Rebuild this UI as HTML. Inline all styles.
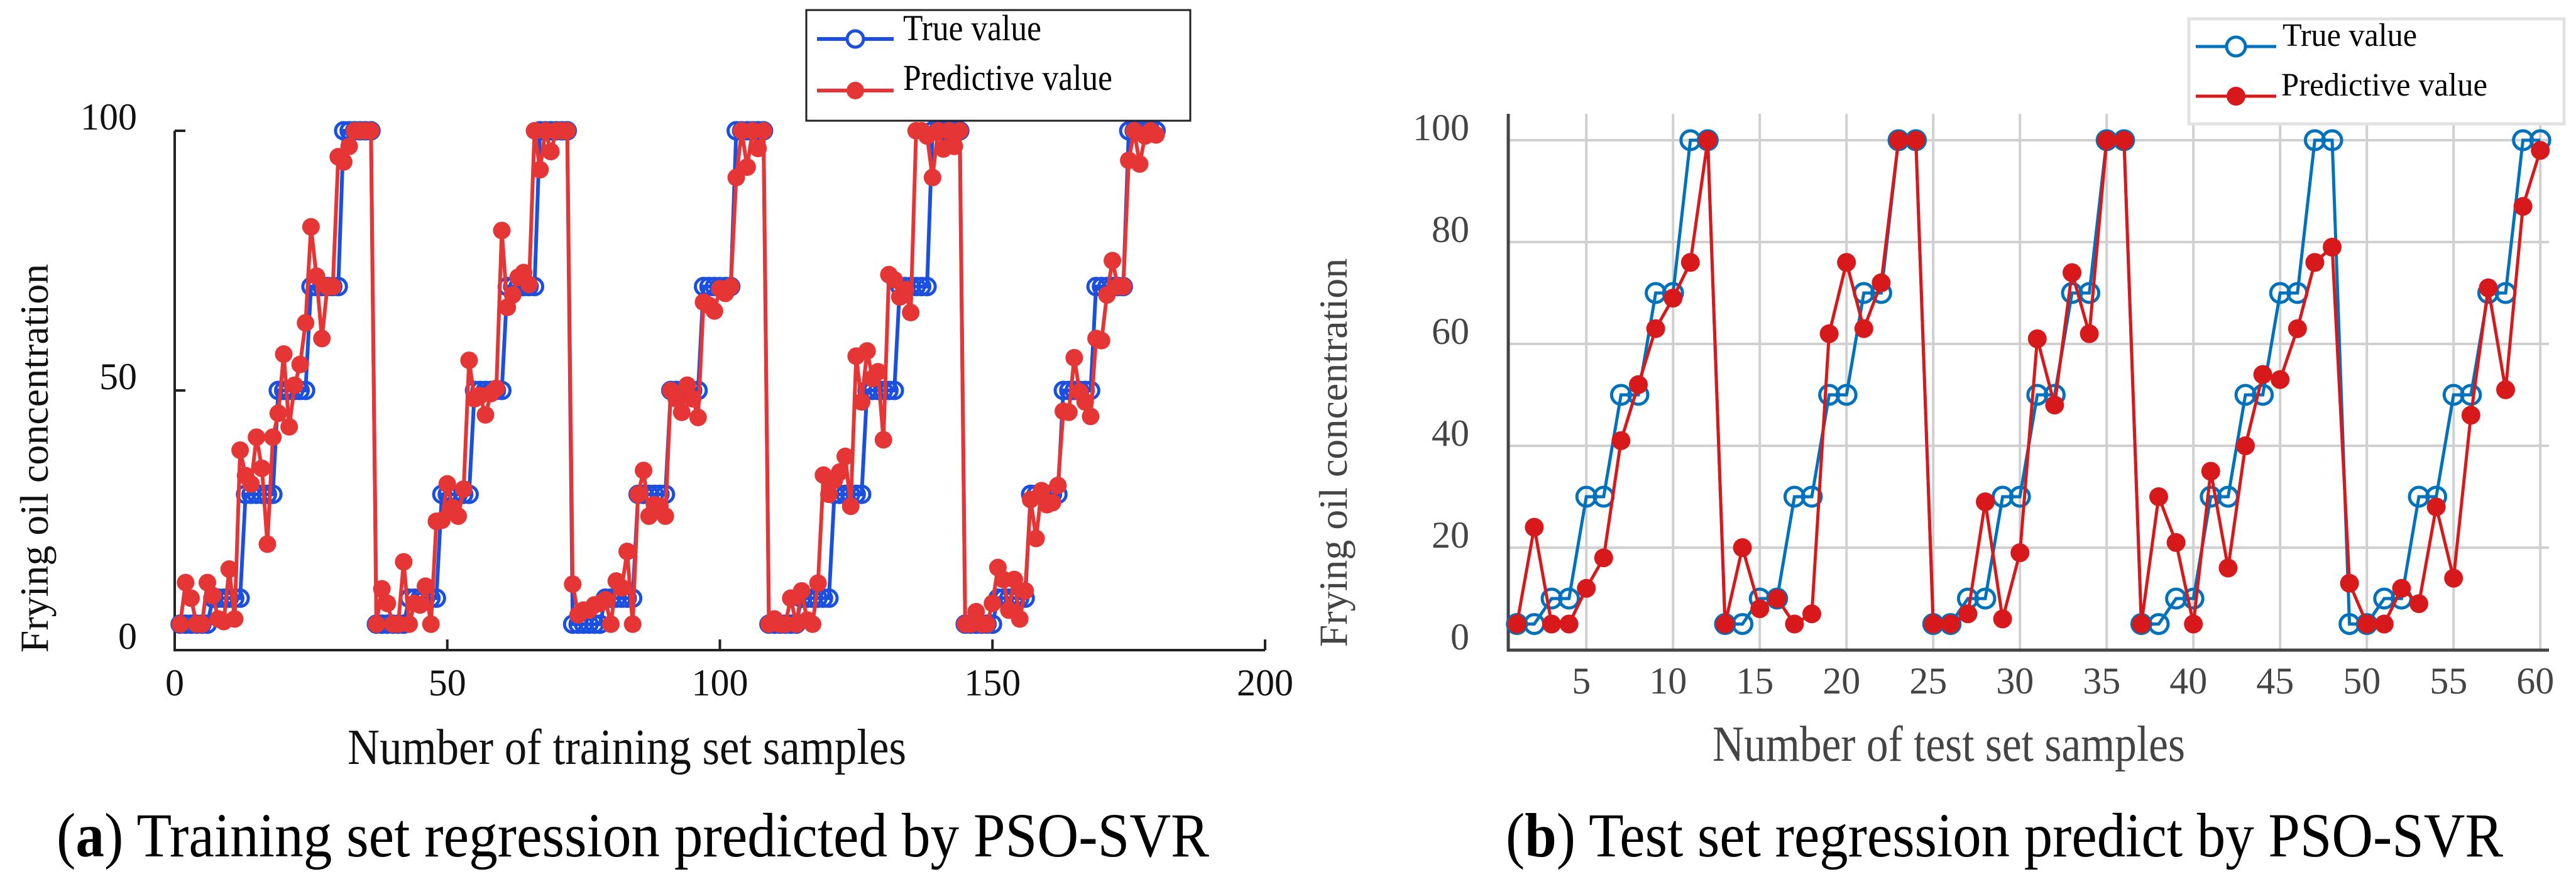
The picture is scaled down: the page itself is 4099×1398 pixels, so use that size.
<!DOCTYPE html>
<html><head><meta charset="utf-8"><style>
html,body{margin:0;padding:0;background:#fff;}
svg{display:block;}
text{font-family:"Liberation Serif",serif;}
</style></head><body>
<svg id="fig" width="4099" height="1398" viewBox="0 0 4099 1398" xmlns="http://www.w3.org/2000/svg">
<g id="left"></g>
<g id="right"></g>
</svg>
<script>
// ---- Training chart data ----
const trainTrue = [
5,5,5,5,5,5,10,10,10,10,10,10,30,30,30,30,30,30,50,50,50,50,50,50,70,70,70,70,70,70,100,100,100,100,100,100,
5,5,5,5,5,5,10,10,10,10,10,10,30,30,30,30,30,30,50,50,50,50,50,50,70,70,70,70,70,70,100,100,100,100,100,100,
5,5,5,5,5,5,10,10,10,10,10,10,30,30,30,30,30,30,50,50,50,50,50,50,70,70,70,70,70,70,100,100,100,100,100,100,
5,5,5,5,5,5,10,10,10,10,10,10,30,30,30,30,30,30,50,50,50,50,50,50,70,70,70,70,70,70,100,100,100,100,100,100,
5,5,5,5,5,5,10,10,10,10,10,10,30,30,30,30,30,30,50,50,50,50,50,50,70,70,70,70,70,70,100,100,100,100,100,100];
const trainPred = [
5,13,10,5,5,13,10.5,6,5.5,15.6,6,38.5,33.6,32,41,35,20.4,41,45.6,57,43,51,55,63,81.5,72,60,70,70,95,94,97,100,100,100,100,
5,11.8,9,5,5,17,5,9,8.7,12.3,5,24.8,25,32,27.4,25.8,31,55.8,48.4,49,45.3,49.4,50.4,80.8,66,68.4,71.8,72.7,70.4,100,92.5,100,96,100,100,100,
12.7,6.8,7.7,7.7,8.7,9,9.7,5,13.3,12,19,5,30,34.6,25.8,28,27.7,25.8,50,48.4,45.8,51,48.4,44.8,67,66.4,65.3,69.6,68.7,70,91,100,93,100,96.6,100,
5,6,5,5,10,5,11.4,5.8,5,12.9,33.7,30,32.7,34.3,37.3,27.7,56.6,47.8,57.6,52.3,53.6,40.5,72.3,71.3,68,69.4,65,100,100,99,91,100,96.5,100,97,100,
5,5,7.4,5,5,9,15.9,13.6,7.7,13.6,6,11.4,29,21.5,30.7,28,28.4,31.7,46,45.8,56.3,49.7,47.8,45,60,59.6,68.4,75,70,70,94.3,100,93.6,99,100,99.2];
const trainXTicks = [0,50,100,150,200];
const trainYTicks = [0,50,100];
// ---- Test chart data ----
const testTrue = [5,5,10,10,30,30,50,50,70,70,100,100,5,5,10,10,30,30,50,50,70,70,100,100,5,5,10,10,30,30,50,50,70,70,100,100,5,5,10,10,30,30,50,50,70,70,100,100,5,5,10,10,30,30,50,50,70,70,100,100];
const testPred = [5,24,5,5,12,18,41,52,63,69,76,100,5,20,8,10,5,7,62,76,63,72,100,100,5,5,7,29,6,19,61,48,74,62,100,100,5,30,21,5,35,16,40,54,53,63,76,79,13,5,5,12,9,28,14,46,71,51,87,98];
const testXTicks = [5,10,15,20,25,30,35,40,45,50,55,60];
const testYTicks = [0,20,40,60,80,100];

const NS="http://www.w3.org/2000/svg";
function mk(parent,tag,attrs,txt){const e=document.createElementNS(NS,tag);for(const k in attrs)e.setAttribute(k,attrs[k]);if(txt!==undefined)e.textContent=txt;parent.appendChild(e);return e;}

// ===== Left chart =====
const L=document.getElementById('left');
const lx=v=>278+(v-0)*(2013-278)/200;
const ly=v=>1034-v*8.26;
// axes
let e;
e=mk(L,'path',{d:`M278,${ly(100)} L278,1034 L2013,1034`,fill:'none',stroke:'#222','stroke-width':4});


trainXTicks.forEach(t=>{
  e=mk(L,'line',{x1:lx(t),x2:lx(t),y1:1034,y2:1017,stroke:'#222','stroke-width':4});
  
  
  e=mk(L,'text',{x:lx(t),y:1106,'font-size':60,'text-anchor':'middle',fill:'#111'},String(t));
  
  
});
trainYTicks.forEach(t=>{
  e=mk(L,'line',{x1:278,x2:295,y1:ly(t),y2:ly(t),stroke:'#222','stroke-width':4});
  
  
  e=mk(L,'text',{x:218,y:ly(t)-2,'font-size':60,'text-anchor':'end',fill:'#111'},String(t));
  
  
});
// series
const lineTrue=trainTrue.map((v,i)=>`${lx(i+1)},${ly(v)}`).join(' ');
e=mk(L,'polyline',{points:lineTrue,fill:'none',stroke:'#1a4fe0','stroke-width':6});


trainTrue.forEach((v,i)=>{
  e=mk(L,'circle',{cx:lx(i+1),cy:ly(v),r:13,fill:'none',stroke:'#1a4fe0','stroke-width':5});
  
  
});
const linePred=trainPred.map((v,i)=>`${lx(i+1)},${ly(v)}`).join(' ');
e=mk(L,'polyline',{points:linePred,fill:'none',stroke:'#e53535','stroke-width':6});


trainPred.forEach((v,i)=>{
  e=mk(L,'circle',{cx:lx(i+1),cy:ly(v),r:14,fill:'#e53535'});
  
  
});
// titles
e=mk(L,'text',{x:0,y:0,'font-size':64,'text-anchor':'middle',fill:'#111',transform:'translate(76,729) rotate(-90)'},'Frying oil concentration');


e=mk(L,'text',{x:553,y:1215,'font-size':80,textLength:889,lengthAdjust:'spacingAndGlyphs',fill:'#111'},'Number of training set samples');


e=mk(L,'text',{x:90,y:1362,'font-size':100,textLength:1834,lengthAdjust:'spacingAndGlyphs',fill:'#000'});


e.innerHTML='(<tspan font-weight="bold">a</tspan>) Training set regression predicted by PSO-SVR';
// legend
const LG=mk(L,'g',{});


mk(LG,'rect',{x:1283,y:16,width:611,height:176,fill:'#fff',stroke:'#222','stroke-width':3});
mk(LG,'line',{x1:1300,x2:1422,y1:62,y2:62,stroke:'#1a4fe0','stroke-width':6});
mk(LG,'circle',{cx:1361,cy:62,r:13,fill:'#fff',stroke:'#1a4fe0','stroke-width':5});
e=mk(LG,'text',{x:1437,y:64,'font-size':58,textLength:220,lengthAdjust:'spacingAndGlyphs',fill:'#000'},'True value');


mk(LG,'line',{x1:1300,x2:1422,y1:144,y2:144,stroke:'#e53535','stroke-width':6});
mk(LG,'circle',{cx:1361,cy:144,r:14,fill:'#e53535'});
e=mk(LG,'text',{x:1437,y:143,'font-size':58,textLength:333,lengthAdjust:'spacingAndGlyphs',fill:'#000'},'Predictive value');



// ===== Right chart =====
const R=document.getElementById('right');
const rx=v=>2400+(v-0.5)*(4056-2400)/60;
const ry=v=>1033-v*8.1;
const gridC='#d0d0d0';
testXTicks.forEach(t=>{
  e=mk(R,'line',{x1:rx(t),x2:rx(t),y1:181,y2:1034,stroke:gridC,'stroke-width':4});
  
  
  e=mk(R,'text',{x:rx(t)-8,y:1103,'font-size':60,'text-anchor':'middle',fill:'#444'},String(t));
  
  
});
testYTicks.forEach(t=>{
  if(t>0){
    e=mk(R,'line',{x1:2400,x2:4056,y1:ry(t),y2:ry(t),stroke:gridC,'stroke-width':4});
    
    
  }
  e=mk(R,'text',{x:2338,y:ry(t),'font-size':60,'text-anchor':'end',fill:'#444'},String(t));
  
  
});
e=mk(R,'path',{d:'M2400,181 L2400,1034 L4056,1034',fill:'none',stroke:'#444','stroke-width':5});


const tTrue=testTrue.map((v,i)=>`${rx(i+1)},${ry(v)}`).join(' ');
e=mk(R,'polyline',{points:tTrue,fill:'none',stroke:'#0072bd','stroke-width':5});


testTrue.forEach((v,i)=>{
  e=mk(R,'circle',{cx:rx(i+1),cy:ry(v),r:15,fill:'none',stroke:'#0072bd','stroke-width':5});
  
  
});
const tPred=testPred.map((v,i)=>`${rx(i+1)},${ry(v)}`).join(' ');
e=mk(R,'polyline',{points:tPred,fill:'none',stroke:'#d7191c','stroke-width':5});


testPred.forEach((v,i)=>{
  e=mk(R,'circle',{cx:rx(i+1),cy:ry(v),r:15,fill:'#d7191c'});
  
  
});
e=mk(R,'text',{x:0,y:0,'font-size':64,'text-anchor':'middle',fill:'#444',transform:'translate(2143,720) rotate(-90)'},'Frying oil concentration');


e=mk(R,'text',{x:2725,y:1210,'font-size':80,textLength:752,lengthAdjust:'spacingAndGlyphs',fill:'#444'},'Number of test set samples');


e=mk(R,'text',{x:2396,y:1362,'font-size':100,textLength:1587,lengthAdjust:'spacingAndGlyphs',fill:'#000'});


e.innerHTML='(<tspan font-weight="bold">b</tspan>) Test set regression predict by PSO-SVR';
const RG=mk(R,'g',{});


mk(RG,'rect',{x:3483,y:30,width:597,height:167,fill:'#fff',stroke:'#e2e2e2','stroke-width':5});
mk(RG,'line',{x1:3494,x2:3622,y1:74,y2:74,stroke:'#0072bd','stroke-width':5});
mk(RG,'circle',{cx:3558,cy:74,r:15,fill:'#fff',stroke:'#0072bd','stroke-width':5});
e=mk(RG,'text',{x:3632,y:73,'font-size':52,textLength:214,lengthAdjust:'spacingAndGlyphs',fill:'#000'},'True value');


mk(RG,'line',{x1:3494,x2:3622,y1:153,y2:153,stroke:'#d7191c','stroke-width':5});
mk(RG,'circle',{cx:3558,cy:153,r:15,fill:'#d7191c'});
e=mk(RG,'text',{x:3630,y:152,'font-size':52,textLength:328,lengthAdjust:'spacingAndGlyphs',fill:'#000'},'Predictive value');


</script>
</body></html>
